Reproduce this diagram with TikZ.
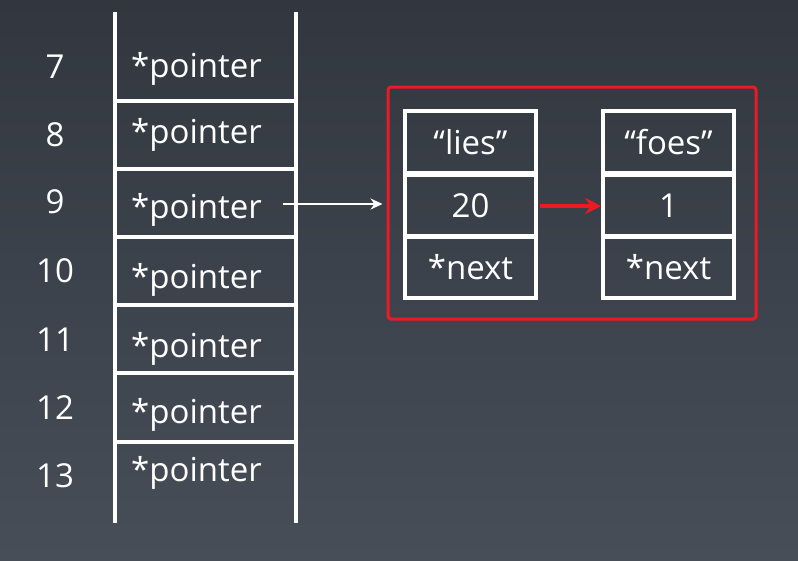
\documentclass[tikz,border=0pt]{standalone}
\usepackage{fontspec}
\setmainfont{Open Sans}
\usetikzlibrary{arrows.meta}
\definecolor{slidetop}{RGB}{50,55,63}
\definecolor{slidebot}{RGB}{71,78,88}
\definecolor{linkred}{RGB}{236,26,36}
\begin{document}
\begin{tikzpicture}[x=1pt,y=1pt]
\tikzstyle{every node}+=[text=white,font=\fontsize{33}{40}\selectfont]
\tikzstyle{rail}=[white,line width=4.5pt]
\tikzstyle{rung}=[white,line width=4pt]
\tikzstyle{cell}=[draw=white,line width=3.5pt,minimum width=131pt,minimum height=62pt,inner sep=0pt]
% background
\shade [top color=slidetop,bottom color=slidebot] (0,0) rectangle (798,-560);
\useasboundingbox (0,0) rectangle (798,-560);
% the array of buckets
\draw [rail] (115,-12) -- (115,-523);
\draw [rail] (296,-12) -- (296,-523);
\draw [rung] (115,-101) -- (296,-101);
\draw [rung] (115,-169) -- (296,-169);
\draw [rung] (115,-237) -- (296,-237);
\draw [rung] (115,-305) -- (296,-305);
\draw [rung] (115,-373) -- (296,-373);
\draw [rung] (115,-442) -- (296,-442);
\node [anchor=base] (i7) at (55,-78) {7};
\node [anchor=base] (i8) at (55,-146) {8};
\node [anchor=base] (i9) at (55,-213) {9};
\node [anchor=base] (i10) at (55,-282) {10};
\node [anchor=base] (i11) at (55,-351) {11};
\node [anchor=base] (i12) at (55,-419) {12};
\node [anchor=base] (i13) at (55,-487) {13};
\node [anchor=base west,inner sep=0pt] (p7) at (131,-77) {*pointer};
\node [anchor=base west,inner sep=0pt] (p8) at (131,-143) {*pointer};
\node [anchor=base west,inner sep=0pt] (p9) at (131,-218) {*pointer};
\node [anchor=base west,inner sep=0pt] (p10) at (131,-288) {*pointer};
\node [anchor=base west,inner sep=0pt] (p11) at (131,-357) {*pointer};
\node [anchor=base west,inner sep=0pt] (p12) at (131,-423) {*pointer};
\node [anchor=base west,inner sep=0pt] (p13) at (131,-481) {*pointer};
% the chained entries
\node [draw=linkred,line width=3pt,rounded corners=3pt,minimum width=368pt,minimum height=232pt] (chain) at (572,-203) {};
\node [cell] (lies) at (470.5,-142) {“lies”};
\node [cell] (twenty) at (470.5,-206) {20};
\node [cell] (next1) at (470.5,-267) {*next};
\node [cell] (foes) at (668.5,-142) {“foes”};
\node [cell] (one) at (668.5,-206) {1};
\node [cell] (next2) at (668.5,-267) {*next};
\coordinate (from9) at (283,-204);
\draw [white,line width=2.5pt,-{Stealth[length=12pt,width=11pt]}] (from9) -- ([xshift=-4pt]chain.west |- from9);
\draw [linkred,line width=4pt,-{Stealth[length=16pt,width=16pt]}] ([xshift=2pt]twenty.east) -- (one.west);
\end{tikzpicture}
\end{document}
